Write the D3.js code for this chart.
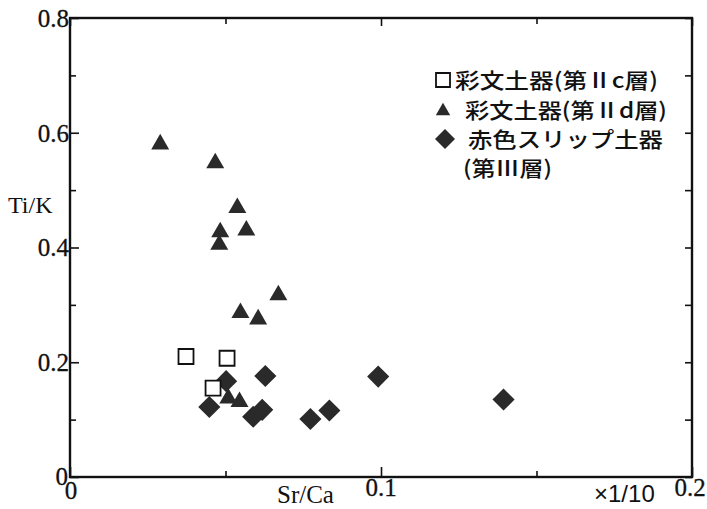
<!DOCTYPE html>
<html><head><meta charset="utf-8">
<script src="https://cdn.jsdelivr.net/npm/d3@7"></script>
<style>body{margin:0;background:#fff}svg{display:block}</style>
</head><body>
<script>
// ---- data (Sr/Ca, Ti/K) ----
const squareSr = [0.0373, 0.0505, 0.0460];
const squareTi = [0.210, 0.207, 0.155];
const triSr = [0.029, 0.0467, 0.0538, 0.0483, 0.0480, 0.0567, 0.067, 0.0548, 0.0605, 0.0509, 0.0545];
const triTi = [0.580, 0.547, 0.469, 0.427, 0.405, 0.430, 0.317, 0.286, 0.275, 0.137, 0.131];
const diaSr = [0.0448, 0.0502, 0.0628, 0.0589, 0.0618, 0.0773, 0.0834, 0.0991, 0.1394];
const diaTi = [0.122, 0.167, 0.176, 0.105, 0.117, 0.101, 0.116, 0.175, 0.135];
const xTicks = [0, 0.1, 0.2];
const yTicks = [0, 0.2, 0.4, 0.6, 0.8];
const yTickLabels = ["0", "0.2", "0.4", "0.6", "0.8"];
const xTickLabels = ["0", "0.1", "0.2"];
const legendLabels = ["彩文土器(第Ⅱc層)", "彩文土器(第Ⅱd層)", "赤色スリップ土器", "(第Ⅲ層)"];

const W = 707, H = 509;
const svg = d3.select("body").append("svg").attr("width", W).attr("height", H);
const x = d3.scaleLinear().domain([0, 0.2]).range([70, 692]);
const y = d3.scaleLinear().domain([0, 0.8]).range([477, 18]);
const ink = "#111", mark = "#2a2a2a";
const serif = "'Liberation Serif','Times New Roman',serif";

// frame
svg.append("rect").attr("x", x(0)).attr("y", y(0.8)).attr("width", x(0.2) - x(0)).attr("height", y(0) - y(0.8))
  .attr("fill", "none").attr("stroke", ink).attr("stroke-width", 2.4);

// ticks via axes (inward)
const gL = svg.append("g").attr("transform", `translate(${x(0)},0)`)
  .call(d3.axisRight(y).tickValues(d3.range(0, 0.81, 0.1)).tickSize(6).tickFormat(""));
gL.selectAll(".tick line").attr("x2", (d, i) => (i % 2 === 0 ? 9 : 6));
const gR = svg.append("g").attr("transform", `translate(${x(0.2)},0)`)
  .call(d3.axisLeft(y).tickValues(d3.range(0, 0.81, 0.1)).tickSize(7).tickFormat(""));
const gB = svg.append("g").attr("transform", `translate(0,${y(0)})`)
  .call(d3.axisTop(x).tickValues([0, 0.05, 0.1, 0.15, 0.2]).tickSize(6).tickFormat(""));
gB.selectAll(".tick line").attr("y2", (d, i) => (i % 2 === 0 ? -10 : -6));
const gT = svg.append("g").attr("transform", `translate(0,${y(0.8)})`)
  .call(d3.axisBottom(x).tickValues([0, 0.05, 0.1, 0.15, 0.2]).tickSize(6).tickFormat(""));
gT.selectAll(".tick line").attr("y2", (d, i) => (i % 2 === 0 ? 8 : 6));
[gL, gR, gB, gT].forEach(g => {
  g.select(".domain").remove();
  g.selectAll(".tick line").attr("stroke", ink).attr("stroke-width", 1.6);
});

// tick labels
svg.append("g").selectAll("text").data(yTicks).join("text")
  .attr("x", d => (d === 0 ? 68 : 69)).attr("y", d => (d === 0 ? y(d) - 1 : y(d))).attr("dy", "0.35em").attr("text-anchor", "end")
  .attr("font-family", serif).attr("font-size", 25).attr("fill", ink).attr("stroke", ink).attr("stroke-width", 0.3)
  .text((d, i) => yTickLabels[i]);
svg.append("g").selectAll("text").data(xTicks).join("text")
  .attr("x", d => x(d) + (d === 0.2 ? -2 : d === 0 ? 1 : 0)).attr("y", d => (d === 0 ? 499 : 496))
  .attr("text-anchor", "middle")
  .attr("font-family", serif).attr("font-size", 25).attr("fill", ink).attr("stroke", ink).attr("stroke-width", 0.3)
  .text((d, i) => xTickLabels[i]);

// axis titles
svg.append("text").attr("x", 8).attr("y", 213).attr("font-family", serif).attr("font-size", 24).attr("fill", ink).text("Ti/K");
svg.append("text").attr("x", 277).attr("y", 503).attr("font-family", serif).attr("font-size", 25).attr("fill", ink).text("Sr/Ca");
svg.append("text").attr("x", 594).attr("y", 502).attr("font-family", "'Liberation Sans',Arial,sans-serif").attr("font-size", 24).attr("fill", ink).text("×1/10");

// markers
const diaPath = d3.symbol(d3.symbolSquare, 245)();
const triPath = d3.symbol(d3.symbolTriangle, 140)();
const sqPath = d3.symbol(d3.symbolSquare, 225)();
svg.append("g").selectAll("path").data(diaSr.map((v, i) => [v, diaTi[i]])).join("path")
  .attr("d", diaPath).attr("transform", d => `translate(${x(d[0])},${y(d[1])}) rotate(45)`)
  .attr("fill", mark);
svg.append("g").selectAll("path").data(triSr.map((v, i) => [v, triTi[i]])).join("path")
  .attr("d", triPath).attr("transform", d => `translate(${x(d[0])},${y(d[1])})`)
  .attr("fill", mark);
svg.append("g").selectAll("path").data(squareSr.map((v, i) => [v, squareTi[i]])).join("path")
  .attr("d", sqPath).attr("transform", d => `translate(${x(d[0])},${y(d[1])})`)
  .attr("fill", "#fff").attr("stroke", ink).attr("stroke-width", 1.8);

// legend
const lg = svg.append("g");
lg.append("path").attr("d", d3.symbol(d3.symbolSquare, 196)()).attr("transform", "translate(443,80)")
  .attr("fill", "#fff").attr("stroke", ink).attr("stroke-width", 1.8);
lg.append("path").attr("d", d3.symbol(d3.symbolTriangle, 90)()).attr("transform", "translate(443,111)")
  .attr("fill", mark);
lg.append("path").attr("d", d3.symbol(d3.symbolSquare, 200)()).attr("transform", "translate(445,139) rotate(45)")
  .attr("fill", mark);
const legPos = [[455, 80, 203], [465, 110, 202], [468, 139, 195], [463, 168, 89]];
lg.selectAll("text").data(legendLabels).join("text")
  .attr("x", (d, i) => legPos[i][0]).attr("y", (d, i) => legPos[i][1]).attr("dy", "0.36em")
  .attr("textLength", (d, i) => legPos[i][2]).attr("lengthAdjust", "spacingAndGlyphs")
  .attr("font-family", "'Noto Sans CJK JP','Noto Sans',sans-serif").attr("font-size", 21)
  .attr("font-weight", 500).attr("fill", ink)
  .text(d => d);
</script>
</body></html>
